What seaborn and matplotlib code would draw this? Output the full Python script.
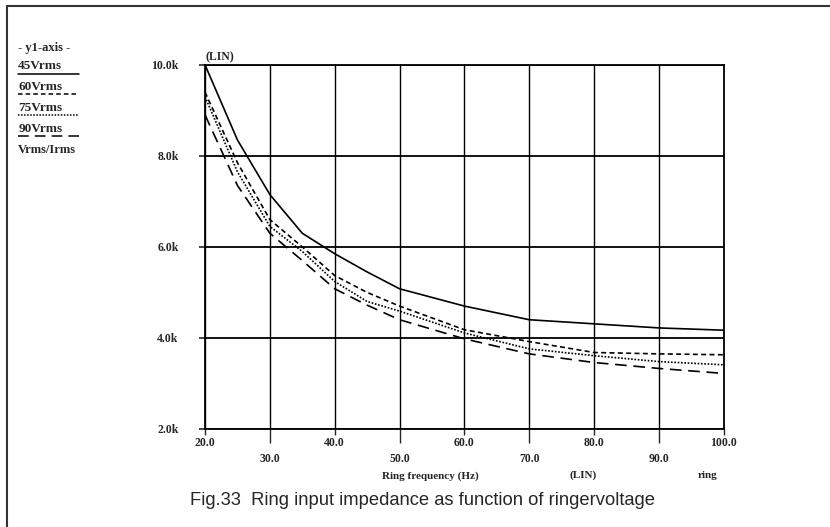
import numpy as np
import pandas as pd
import seaborn as sns
import matplotlib.pyplot as plt
from matplotlib.lines import Line2D

# Ring frequency (Hz) and impedance Vrms/Irms (ohm)
freq = [20, 25, 30, 35, 40, 45, 50, 60, 70, 80, 90, 100]
z_45v = [10000, 8350, 7150, 6300, 5850, 5450, 5080, 4700, 4400, 4310, 4220, 4170]
z_60v = [9400, 7850, 6600, 6000, 5370, 5000, 4700, 4180, 3920, 3680, 3650, 3630]
z_75v = [9300, 7650, 6450, 5900, 5240, 4800, 4590, 4110, 3760, 3610, 3480, 3410]
z_90v = [8900, 7350, 6300, 5700, 5080, 4720, 4400, 3980, 3650, 3460, 3330, 3220]

series_names = ['45Vrms', '60Vrms', '75Vrms', '90Vrms']
x_major = [20, 40, 60, 80, 100]
x_minor = [30, 50, 70, 90]
y_ticks = [2000, 4000, 6000, 8000, 10000]

dash_map = {'45Vrms': '', '60Vrms': (3, 2), '75Vrms': (1, 1), '90Vrms': (7, 4)}

rows = []
for name, vals in zip(series_names, [z_45v, z_60v, z_75v, z_90v]):
    for f, z in zip(freq, vals):
        rows.append({'freq': f, 'z': z, 'voltage': name})
df = pd.DataFrame(rows)

sns.set_style('white')
plt.rcParams['font.family'] = ['Liberation Serif', 'DejaVu Serif']

fig = plt.figure(figsize=(8.3, 5.27), dpi=100)
ax = fig.add_axes([0.247, 0.186, 0.625, 0.691])

sns.lineplot(data=df, x='freq', y='z', style='voltage', dashes=dash_map,
             color='black', linewidth=1.2, legend=False, ax=ax)

ax.set_xlim(20, 100)
ax.set_ylim(2000, 10000)

ax.set_xticks(x_major)
ax.set_xticklabels(['%.1f' % v for v in x_major], fontsize=8.5, fontweight='bold')
ax.set_xticks(x_minor, minor=True)
ax.set_xticklabels(['%.1f' % v for v in x_minor], minor=True, fontsize=8.5, fontweight='bold')
ax.set_yticks(y_ticks)
ax.set_yticklabels(['%.1fk' % (v / 1000) for v in y_ticks], fontsize=8.5, fontweight='bold')

ax.tick_params(axis='x', which='major', direction='out', length=4, width=1.0, pad=2, bottom=True)
ax.tick_params(axis='x', which='minor', direction='out', length=10, width=1.0, pad=7, bottom=True)
ax.tick_params(axis='y', direction='out', length=4, width=1.2, pad=15, left=True)

ax.grid(True, axis='x', which='both', color='black', linewidth=1.0)
ax.grid(True, axis='y', which='major', color='black', linewidth=1.3)
for s in ax.spines.values():
    s.set_color('black')
    s.set_linewidth(1.3)

ax.set_xlabel('')
ax.set_ylabel('')

# labels around the plot
ax.text(0.0, 1.005, '(LIN)', transform=ax.transAxes, ha='left', va='bottom', fontsize=8.5, fontweight='bold')
fig.text(0.519, 0.097, 'Ring frequency (Hz)', ha='center', va='center', fontsize=8, fontweight='bold')
fig.text(0.703, 0.099, '(LIN)', ha='center', va='center', fontsize=8, fontweight='bold')
fig.text(0.853, 0.097, 'ring', ha='center', va='center', fontsize=8, fontweight='bold')
fig.text(0.509, 0.051, 'Fig.33  Ring input impedance as function of ringervoltage',
         ha='center', va='center', fontsize=13.2, family=['Liberation Sans', 'DejaVu Sans'])

# left side key
fig.text(0.022, 0.909, '- y1-axis -', ha='left', va='center', fontsize=9, fontweight='bold')
key_y = [0.874, 0.835, 0.795, 0.755]
for name, yk in zip(series_names, key_y):
    fig.text(0.022, yk, name, ha='left', va='center', fontsize=9.5, fontweight='bold')
    ln = Line2D([0.022, 0.095], [yk - 0.014, yk - 0.014], transform=fig.transFigure,
                color='black', linewidth=1.1)
    if dash_map[name]:
        ln.set_dashes(dash_map[name])
    fig.add_artist(ln)
fig.text(0.022, 0.715, 'Vrms/Irms', ha='left', va='center', fontsize=9, fontweight='bold')

# page frame
fig.add_artist(Line2D([0.008, 1.0], [0.989, 0.989], transform=fig.transFigure, color='#333333', linewidth=1.5))
fig.add_artist(Line2D([0.008, 0.008], [0.0, 0.989], transform=fig.transFigure, color='#333333', linewidth=1.5))

fig.savefig('out.png', dpi=100)
